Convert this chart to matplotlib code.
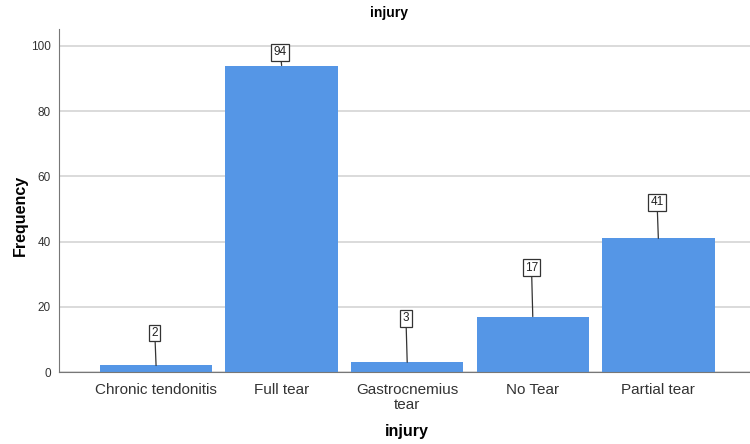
import matplotlib.pyplot as plt

plt.rcParams["font.family"] = ["Liberation Sans", "DejaVu Sans"]

# injury frequencies
categories = ["Chronic tendonitis", "Full tear", "Gastrocnemius\ntear", "No Tear", "Partial tear"]
counts = [2, 94, 3, 17, 41]
# heights of the value boxes above each bar
label_heights = [12, 98, 16.5, 32, 52]

fig = plt.figure(figsize=(7.5, 4.44), dpi=100)
ax = fig.add_axes([59 / 750, 1 - 372 / 444, 691 / 750, 343 / 444])

x = range(len(categories))
ax.bar(x, counts, width=0.895, color="#5596e6", zorder=2)

for xi, c, ly in zip(x, counts, label_heights):
    ax.annotate(str(c), xy=(xi, c), xytext=(xi - 0.01, ly),
                ha="center", va="center", fontsize=8.5, color="#222222",
                bbox=dict(boxstyle="square,pad=0.2", fc="white", ec="#333333", lw=0.9),
                arrowprops=dict(arrowstyle="-", color="#333333", lw=0.9,
                                shrinkA=0, shrinkB=0),
                zorder=3)

ax.set_xlim(-0.773, 4.73)
ax.set_ylim(0, 105.2)
ax.set_yticks([0, 20, 40, 60, 80, 100])
ax.set_xticks(list(x))
ax.set_xticklabels(categories, fontsize=11, color="#333333", linespacing=1.05)
ax.tick_params(axis="y", labelsize=8.5, colors="#333333", length=0, pad=6)
ax.tick_params(axis="x", length=0, pad=8)
ax.yaxis.grid(True, color="#d4d4d4", lw=1.2, zorder=0)
ax.set_axisbelow(True)

for s in ["top", "right"]:
    ax.spines[s].set_visible(False)
ax.spines["left"].set_color("#777777")
ax.spines["bottom"].set_color("#777777")

fig.text(20 / 750, 1 - 215 / 444, "Frequency", ha="center", va="center",
         rotation=90, fontsize=11.5, fontweight="bold")
fig.text(407 / 750, 1 - 431 / 444, "injury", ha="center", va="center",
         fontsize=11.5, fontweight="bold")
fig.text(389 / 750, 1 - 13 / 444, "injury", ha="center", va="center",
         fontsize=10, fontweight="bold")

fig.savefig("out.png", dpi=100)
